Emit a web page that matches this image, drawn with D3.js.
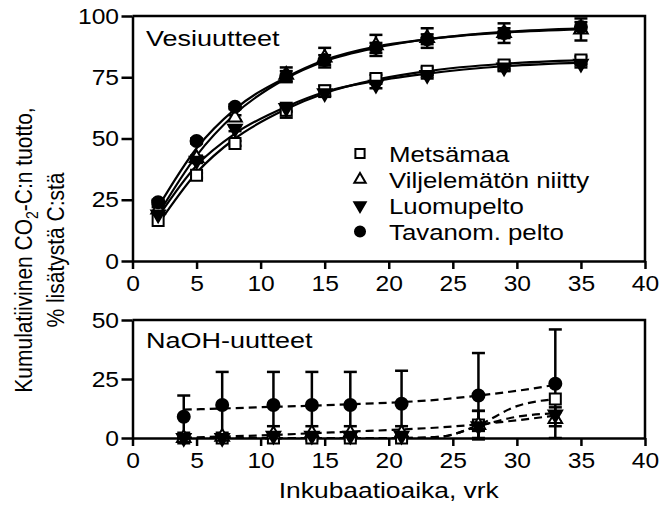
<!DOCTYPE html>
<html>
<head>
<meta charset="utf-8">
<script src="https://cdn.jsdelivr.net/npm/d3@7"></script>
<style>
  body { margin: 0; background: white; }
  svg text { font-family: Arial, "Liberation Sans", sans-serif; fill: black; }
</style>
</head>
<body>
<div id="chart"></div>
<script>
// ---- data ----
const seriesNames = ["Metsämaa", "Viljelemätön niitty", "Luomupelto", "Tavanom. pelto"];

// Vesiuutteet (top panel)
const topDays = [2, 5, 8, 12, 15, 19, 23, 29, 35];
const metsamaaTop = [16.5, 35, 48, 61.5, 69.5, 74.5, 77.5, 80, 82];
const metsamaaTopErr = [0.5, 1, 1, 3, 2, 1.5, 1.5, 1.5, 1.5];
const niittyTop = [21, 42, 58.5, 76, 83, 88, 91, 93, 94.5];
const niittyTopErr = [1, 1, 1, 3, 4, 4.3, 4, 4, 4.5];
const luomuTop = [19, 41, 54, 62.5, 68.5, 72, 76, 79, 80.5];
const luomuTopErr = [0.5, 1, 1, 1.5, 1.5, 1.5, 1.5, 1.5, 1.5];
const tavanomTop = [24, 49, 63, 75.5, 82, 87, 90.5, 93, 95.5];
const tavanomTopErr = [1, 1, 1, 2, 2, 2, 2, 2, 2];
// fitted curves
const metsamaaTopFit = [15, 36, 50, 62, 68.5, 74, 77.5, 80.5, 82];
const niittyTopFit = [19, 43, 60, 74.5, 81.5, 87, 90.5, 93.2, 94.5];
const luomuTopFit = [18, 39, 52, 63, 69, 73.5, 76.5, 79.5, 81];
const tavanomTopFit = [22, 46, 62, 75, 82, 87.5, 90.5, 93.5, 95];

// NaOH-uutteet (bottom panel)
const botDays = [4, 7, 11, 14, 17, 21, 27, 33];
const metsamaaBot = [0, 0, 0, 0, 0, 0, 5.5, 16.5];
const metsamaaBotErr = [0, 0, 0, 0, 0, 0, 6, 0];
const niittyBot = [0, 0.5, 1.5, 2, 2, 2, 5.5, 8];
const niittyBotErr = [0, 0.5, 3.5, 3, 3, 3, 6, 3];
const luomuBot = [0, 0, 1, 1, 1, 1, 5, 10];
const luomuBotErr = [0, 0, 0, 0, 0, 0, 2, 3];
const tavanomBot = [9, 14, 14, 14, 14, 14.5, 18, 23];
const tavanomBotErr = [9, 14, 14, 14, 14, 14, 18, 23];
const botFitDays = [4, 7, 11, 14, 17, 21, 24, 27, 30, 33];
const metsamaaBotFit = [0, 0, 0, 0, 0, 0, 0.5, 5.5, 13.5, 16.5];
const niittyBotFit = [0.2, 0.6, 1.3, 2, 2.7, 3.6, 4.5, 5.8, 7.5, 9.5];
const luomuBotFit = [0, 0, 0, 0, 0, 0, 0.5, 5, 9, 10.5];
const tavanomBotFit = [12, 12.5, 13.2, 13.7, 14.3, 15.2, 16.3, 18, 20, 22.5];

const xTicks = [0, 5, 10, 15, 20, 25, 30, 35, 40];
const yTopTicks = [0, 25, 50, 75, 100];
const yBotTicks = [0, 25, 50];

// ---- layout ----
const width = 663, height = 507;
const stretch = 1.2; // text in the picture is wider than plain Arial
const svg = d3.select("#chart").append("svg")
    .attr("width", width)
    .attr("height", height);

const x = d3.scaleLinear().domain([0, 40]).range([132.5, 645]);
const yTop = d3.scaleLinear().domain([0, 100]).range([261, 16]);
const yBot = d3.scaleLinear().domain([0, 50]).range([438, 320]);

const symbolTypes = [d3.symbolSquare, d3.symbolTriangle, d3.symbolTriangle, d3.symbolCircle];
const symbolSizes = [121, 80, 80, 113];
const symbolFill = ["white", "white", "black", "black"];
const symbolRotate = [0, 0, 180, 0];

function label(px, py, str, size) {
    return svg.append("text")
        .attr("transform", "translate(" + px + "," + py + ") scale(" + stretch + ",1)")
        .attr("font-size", size + "px")
        .text(str);
}

function drawAxes(yScale, yTicks) {
    let xAxis = d3.axisBottom(x).tickValues(xTicks).tickSize(8).tickSizeOuter(0).tickPadding(6);
    let yAxis = d3.axisLeft(yScale).tickValues(yTicks).tickSize(11).tickSizeOuter(0).tickPadding(1);
    let gx = svg.append("g")
        .attr("transform", "translate(0," + yScale(0) + ")")
        .call(xAxis);
    let gy = svg.append("g")
        .attr("transform", "translate(" + x(0) + ",0)")
        .call(yAxis);
    [gx, gy].forEach(g => {
        g.selectAll("path, line").attr("stroke", "black").attr("stroke-width", 2.5);
        g.selectAll("text").attr("font-size", "22px").attr("fill", "black")
            .attr("transform", "scale(1.12,1)");
    });
    // frame on top and right
    let top = yScale.domain()[1];
    svg.append("path")
        .attr("d", "M" + x(0) + "," + yScale(top) + "H" + x(40) + "V" + yScale(0))
        .attr("fill", "none")
        .attr("stroke", "black")
        .attr("stroke-width", 2.5);
}

function drawPanel(yScale, days, values, errs, fitDays, fits, dashed) {
    let g = svg.append("g");
    let line = d3.line()
        .x(d => x(d.x))
        .y(d => yScale(d.y))
        .curve(d3.curveMonotoneX);
    // error bars
    values.forEach((vals, s) => {
        vals.forEach((v, i) => {
            let e = errs[s][i];
            if (e <= 0.6) return;
            let cx = x(days[i]);
            g.append("line")
                .attr("x1", cx).attr("x2", cx)
                .attr("y1", yScale(v - e)).attr("y2", yScale(v + e))
                .attr("stroke", "black").attr("stroke-width", 2.5);
            [v - e, v + e].forEach(b => {
                g.append("line")
                    .attr("x1", cx - 6.5).attr("x2", cx + 6.5)
                    .attr("y1", yScale(b)).attr("y2", yScale(b))
                    .attr("stroke", "black").attr("stroke-width", 2.5);
            });
        });
    });
    // fitted lines
    fits.forEach(f => {
        g.append("path")
            .datum(fitDays.map((d, i) => ({x: d, y: f[i]})))
            .attr("d", line)
            .attr("fill", "none")
            .attr("stroke", "black")
            .attr("stroke-width", 2.2)
            .attr("stroke-dasharray", dashed ? "8,5" : null);
    });
    // markers
    values.forEach((vals, s) => {
        g.selectAll(null)
            .data(vals.map((v, i) => ({x: days[i], y: v})))
            .enter().append("path")
            .attr("d", d3.symbol().type(symbolTypes[s]).size(symbolSizes[s]))
            .attr("transform", d => "translate(" + x(d.x) + "," + yScale(d.y) + ") rotate(" + symbolRotate[s] + ")")
            .attr("fill", symbolFill[s])
            .attr("stroke", "black")
            .attr("stroke-width", 2);
    });
}

drawAxes(yTop, yTopTicks);
drawAxes(yBot, yBotTicks);

drawPanel(yTop, topDays,
    [metsamaaTop, niittyTop, luomuTop, tavanomTop],
    [metsamaaTopErr, niittyTopErr, luomuTopErr, tavanomTopErr],
    topDays, [metsamaaTopFit, niittyTopFit, luomuTopFit, tavanomTopFit], false);

drawPanel(yBot, botDays,
    [metsamaaBot, niittyBot, luomuBot, tavanomBot],
    [metsamaaBotErr, niittyBotErr, luomuBotErr, tavanomBotErr],
    botFitDays, [metsamaaBotFit, niittyBotFit, luomuBotFit, tavanomBotFit], true);

// panel titles
label(146, 46, "Vesiuutteet", 22.5);
label(146, 348, "NaOH-uutteet", 22.5);

// legend
seriesNames.forEach((name, s) => {
    let base = 162 + s * 26;
    svg.append("path")
        .attr("d", d3.symbol().type(symbolTypes[s]).size(symbolSizes[s] * 0.7))
        .attr("transform", "translate(360," + (base - 8.5) + ") rotate(" + symbolRotate[s] + ")")
        .attr("fill", symbolFill[s])
        .attr("stroke", "black")
        .attr("stroke-width", 2);
    label(389, base, name, 21.5);
});

// axis titles
label((x(0) + x(40)) / 2, 498, "Inkubaatioaika, vrk", 22)
    .attr("text-anchor", "middle");

const yTitle = svg.append("text")
    .attr("transform", "translate(32,250) rotate(-90) scale(1,1.15)")
    .attr("text-anchor", "middle")
    .attr("font-size", "21px");
yTitle.append("tspan").text("Kumulatiivinen CO");
yTitle.append("tspan").attr("font-size", "14px").attr("dy", 5).text("2");
yTitle.append("tspan").attr("dy", -5).text("-C:n tuotto,");

svg.append("text")
    .attr("transform", "translate(64,250) rotate(-90) scale(1,1.15)")
    .attr("text-anchor", "middle")
    .attr("font-size", "21px")
    .text("% lisätystä C:stä");
</script>
</body>
</html>
